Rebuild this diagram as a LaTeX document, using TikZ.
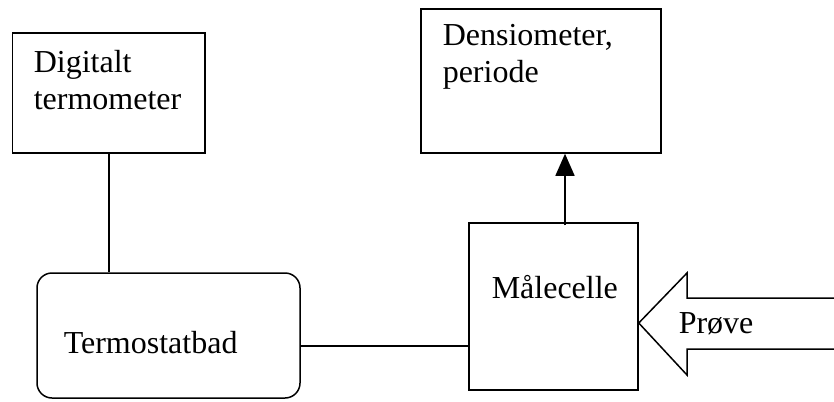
\documentclass[tikz,border=0pt]{standalone}
\usepackage{fontspec}
\setmainfont{Liberation Serif}
\usepackage{tikz}
\usetikzlibrary{arrows.meta, calc}

\begin{document}
\begin{tikzpicture}[x=1pt, y=-1pt, line width=1.5pt,
    box/.style={draw, inner sep=0pt},
    txt/.style={anchor=base west, inner sep=0pt, align=left,
                font=\fontsize{32}{37}\selectfont}]
  \useasboundingbox (0,0) rectangle (834,401);

  % Instrument boxes
  \node[box, minimum width=192.5pt, minimum height=120pt] (termo) at (108.75,93) {};
  \node[box, rounded corners=15pt, minimum width=263pt, minimum height=125pt] (bath) at (168.5,335.5) {};
  \node[box, minimum width=240pt, minimum height=144pt] (dens) at (541,81) {};
  \node[box, minimum width=169pt, minimum height=167pt] (cell) at (553.5,306.5) {};

  % Labels, set top left in the boxes (base = last line)
  \node[txt] (termotxt) at (33,110) {Digitalt\\termometer};
  \node[txt] (bathtxt) at (63,353) {Termostatbad};
  \node[txt] (denstxt) at (442,83) {Densiometer,\\periode};
  \node[txt] (celltxt) at (491,298) {Målecelle};

  % Connections
  \draw (termo.south) -- (termo.south |- bath.north);
  \draw ([yshift=-10.5pt]bath.east) -- ([yshift=-10.5pt]bath.east -| cell.west);
  \draw[-{Triangle[length=22pt, width=19pt]}]
    ([xshift=11.5pt, yshift=-3pt]cell.north) -- ([xshift=11.5pt]cell.north |- dens.south);

  % Sample inlet --- open block arrow
  \coordinate (tip) at ([yshift=-16.5pt]cell.east);
  \draw[line join=miter] (834,298) -- (687,298) -- (687,273) -- (tip)
    -- (687,375) -- (687,349) -- (834,349);
  \node[txt] (sample) at (678,333) {Prøve};
\end{tikzpicture}
\end{document}
